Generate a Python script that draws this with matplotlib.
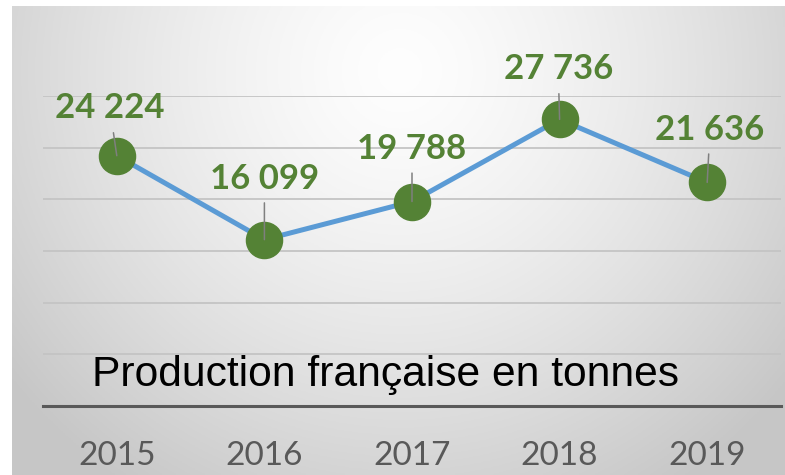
import numpy as np
import matplotlib.pyplot as plt

# données (production française en tonnes)
years = ['2015', '2016', '2017', '2018', '2019']
production = [24224, 16099, 19788, 27736, 21636]
labels = ['24 224', '16 099', '19 788', '27 736', '21 636']
# décalage des étiquettes (points) -- mise en page seulement
lab_dx = [-5, 0, 0, -1, 2]
lab_dy = [34, 44, 38, 36, 38]

W, H = 785, 475
fig = plt.figure(figsize=(W / 100, H / 100), dpi=100)
fig.patch.set_facecolor('white')

# fond dégradé gris style Excel
bg = fig.add_axes([12 / W, 0, (W - 12) / W, (H - 6) / H])
bg.set_axis_off()
xx, yy = np.meshgrid(np.linspace(12, W, 300), np.linspace(6, H, 200))
d = np.sqrt(((xx - 400) / 420) ** 2 + ((yy - 70) / 420) ** 2)
v = np.clip(0.995 - 0.17 * d ** 1.4, 0.78, 1.0)
bg.imshow(np.dstack([v, v, v]), aspect='auto', extent=[0, 1, 0, 1], origin='upper')

ax = fig.add_axes([43 / W, (H - 406) / H, 738 / W, 310 / H])
ax.patch.set_alpha(0)
x = np.arange(len(years))
ax.set_xlim(-0.5, len(years) - 0.5)
ax.set_ylim(0, 30000)
ax.set_yticks(np.arange(5000, 30001, 5000))
ax.yaxis.grid(True, color='#c4c4c4', lw=1.3)
ax.axhline(0, color='#595959', lw=2.2, clip_on=False, zorder=1)
ax.tick_params(axis='y', length=0, labelleft=False)
for s in ax.spines.values():
    s.set_visible(False)
ax.set_xticks(x)
ax.set_xticklabels(years, fontsize=24, color='#595959', family='Lato')
ax.tick_params(axis='x', length=0, pad=25)

ax.plot(x, production, color='#5b9bd5', lw=3.6, marker='o', ms=26,
        mfc='#548235', mec='#548235', zorder=3, clip_on=False)

for i, (val, lab) in enumerate(zip(production, labels)):
    ax.annotate(lab, xy=(x[i], val), xytext=(lab_dx[i], lab_dy[i]),
                textcoords='offset points', ha='center', va='center',
                fontsize=25, fontweight='bold', color='#548235', family='Lato',
                arrowprops=dict(arrowstyle='-', color='#7f7f7f', lw=1.1,
                                shrinkA=4, shrinkB=0),
                zorder=4, annotation_clip=False)

fig.text(92 / W, (H - 386) / H, 'Production française en tonnes',
         fontsize=30.7, family='Liberation Sans', color='black',
         ha='left', va='baseline')

fig.savefig('out.png', dpi=100)
